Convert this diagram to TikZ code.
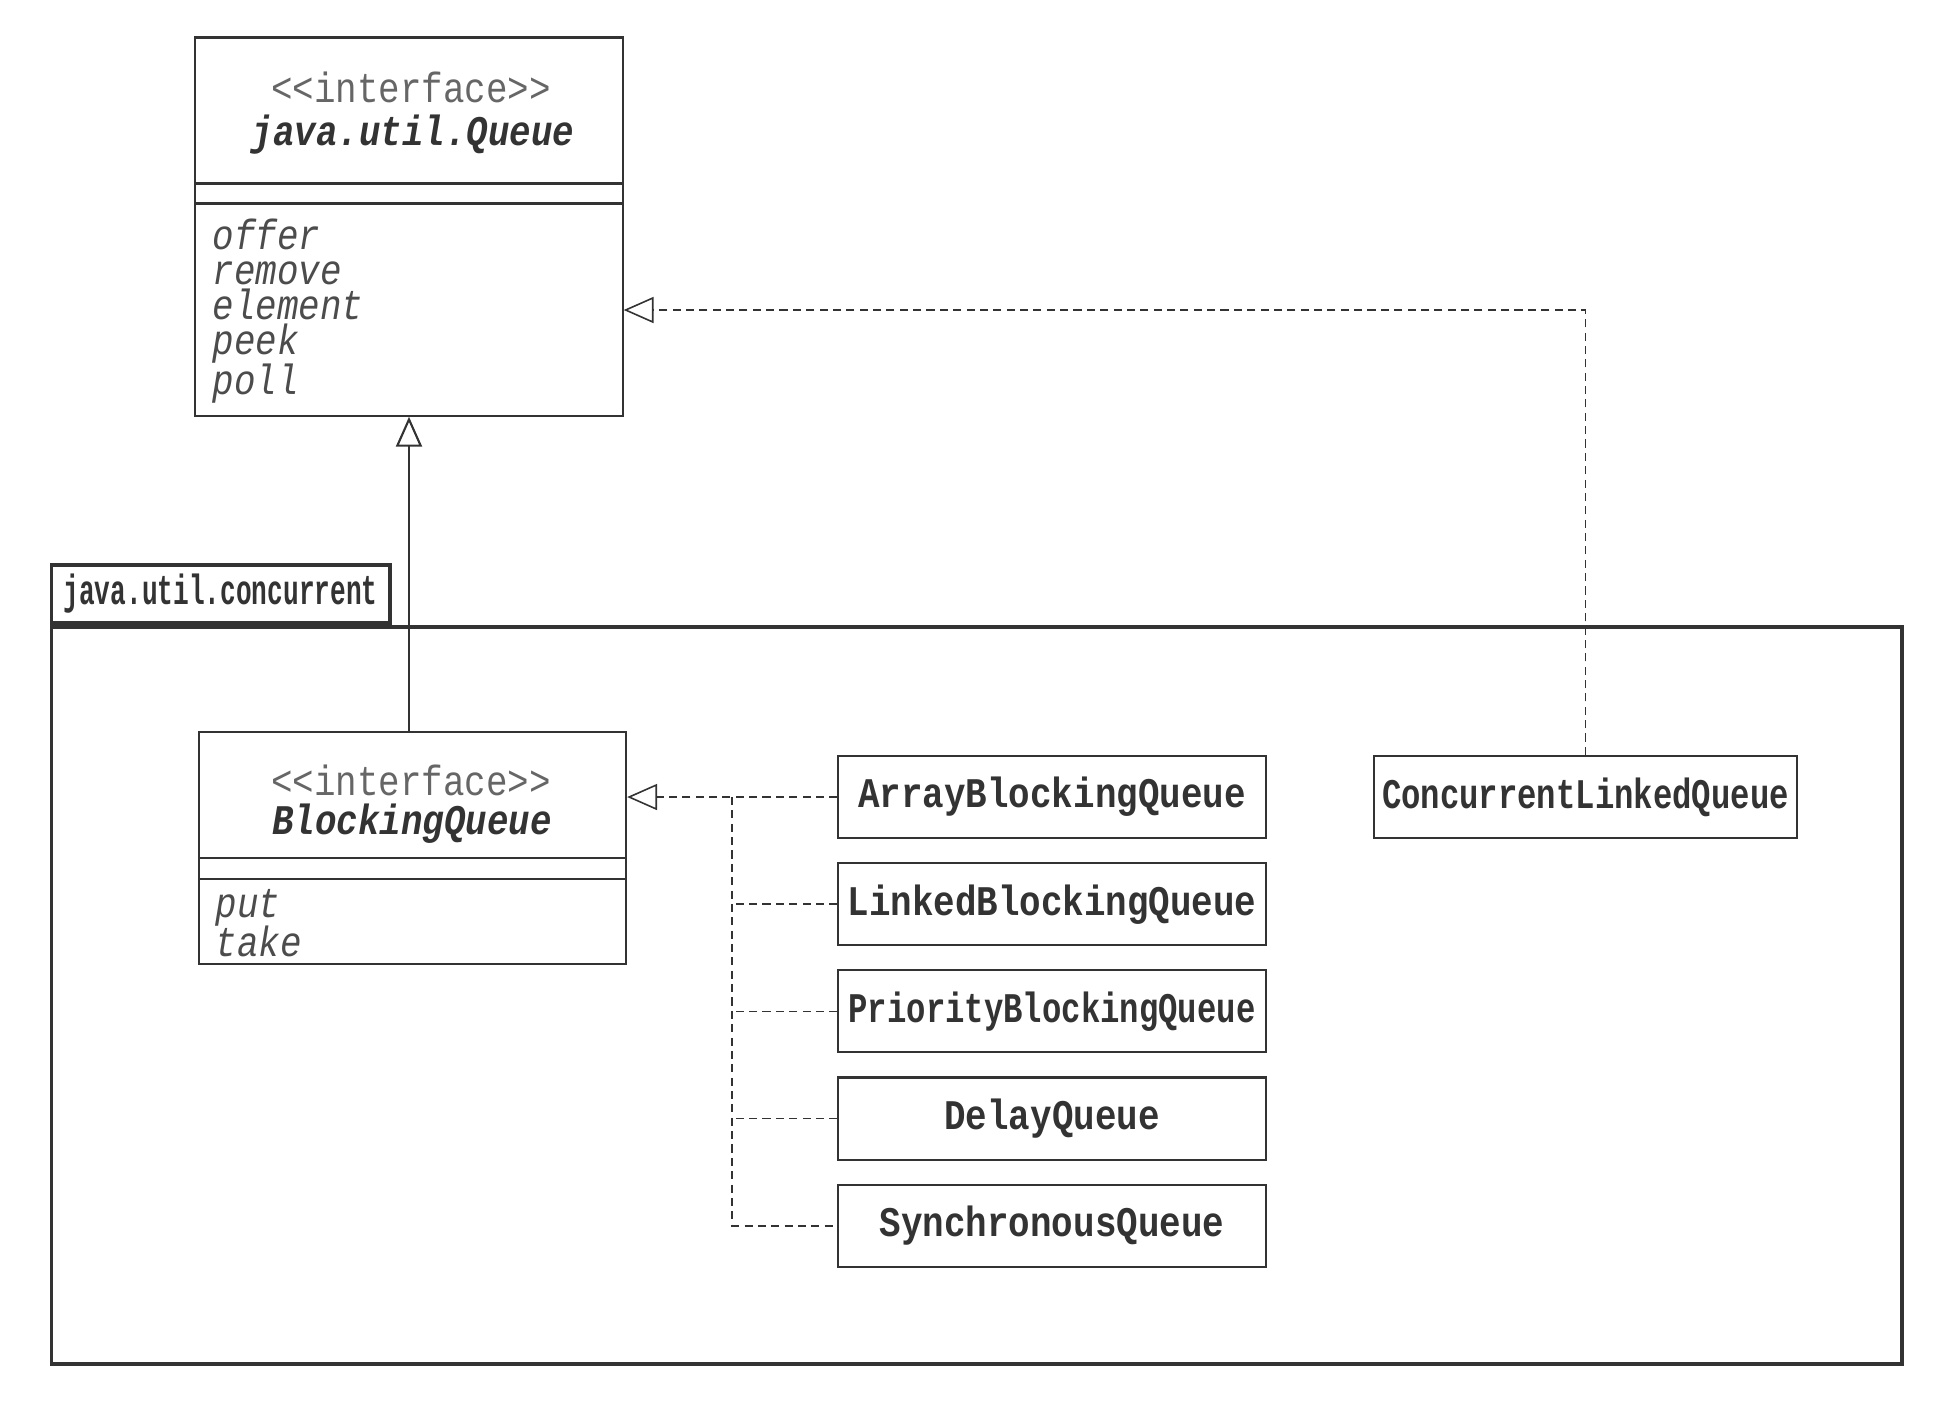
\documentclass[tikz,border=0pt]{standalone}
\usepackage{fontspec}
\usepackage{graphicx}
\usetikzlibrary{arrows.meta,positioning,calc}
\newfontfamily\umlfont[FakeStretch=0.85]{Liberation Mono}
\newfontfamily\tabfont[FakeStretch=0.62]{Liberation Mono}
\newcommand\umlsize{\fontsize{12}{14}\selectfont}
\definecolor{inkgray}{gray}{0.2}
\definecolor{stereogray}{gray}{0.4}
\definecolor{opgray}{gray}{0.3}

\tikzset{
  umlbox/.style={draw=inkgray, line width=0.6pt, minimum width=4.27cm, inner sep=0pt},
  classbox/.style={umlbox, minimum height=0.82cm, font={\umlfont\umlsize\bfseries}, text=inkgray},
  stereo/.style={font={\umlfont\umlsize}, text=stereogray, anchor=base, inner sep=0pt},
  ifname/.style={font={\umlfont\umlsize\bfseries\itshape}, text=inkgray, anchor=base, inner sep=0pt},
  oplist/.style={font={\umlfont\fontsize{12}{9.96}\selectfont\itshape\lineskiplimit=-20pt},
                 text=opgray, align=left, anchor=north west, inner sep=0pt},
  pkgline/.style={draw=inkgray, line width=1.1pt, inner sep=0pt},
  dep/.style={draw=inkgray, line width=0.45pt, dash pattern=on 2.3pt off 1.5pt},
  hollow/.style={-{Triangle[open, length=8.5pt, width=7.4pt, fill=white]}},
}

\begin{document}
\begin{tikzpicture}[x=0.01cm, y=-0.01cm]
    \useasboundingbox (0,0) rectangle (1952,1402);

    % 包 java.util.concurrent
    \node[pkgline, minimum width=18.49cm, minimum height=7.37cm] (pkg) at (976.5,995.5) {};
    \node[pkgline, anchor=south west, minimum width=3.38cm, minimum height=0.58cm,
          font={\tabfont\umlsize\bfseries}, text=inkgray] (tab) at (pkg.north west) {java.util.concurrent};

    % 接口 Queue
    \node[umlbox, minimum height=3.78cm] (queue) at (409,226.6) {};
    \draw[draw=inkgray, line width=0.6pt] ([yshift=-1.47cm]queue.north west) -- ([yshift=-1.47cm]queue.north east);
    \draw[draw=inkgray, line width=0.6pt] ([yshift=-1.67cm]queue.north west) -- ([yshift=-1.67cm]queue.north east);
    \node[stereo] (qstereo) at (411,102) {<<interface>>};
    \node[ifname] (qname) at (413,145) {java.util.Queue};
    \node[oplist] (qops) at (212,218.5) {offer\\remove\\element\\peek\\[1.4pt]poll};

    % 接口 BlockingQueue
    \node[umlbox, minimum height=2.32cm] (bq) at (412.5,848) {};
    \draw[draw=inkgray, line width=0.6pt] ([yshift=-1.27cm]bq.north west) -- ([yshift=-1.27cm]bq.north east);
    \draw[draw=inkgray, line width=0.6pt] ([yshift=-1.48cm]bq.north west) -- ([yshift=-1.48cm]bq.north east);
    \node[stereo] (bqstereo) at (411,795) {<<interface>>};
    \node[ifname] (bqname) at (412,834) {BlockingQueue};
    \node[oplist] (bqops) at (215,889) {put\\[1pt]take};

    % 实现类
    \node[classbox] (abq) at (1052,797) {ArrayBlockingQueue};
    \node[classbox, below=0.23cm of abq] (lbq) {LinkedBlockingQueue};
    \node[classbox, below=0.23cm of lbq] (pbq) {\scalebox{0.9}[1]{PriorityBlockingQueue}};
    \node[classbox, below=0.23cm of pbq] (dq) {DelayQueue};
    \node[classbox, below=0.23cm of dq] (sq) {SynchronousQueue};
    \node[classbox, minimum width=4.23cm, right=1.06cm of abq] (clq) {\scalebox{0.9}[1]{ConcurrentLinkedQueue}};

    % 继承与实现
    \draw[draw=inkgray, line width=0.6pt, hollow] (queue.south |- bq.north) -- (queue.south);
    \coordinate (trunk) at ($(abq.west)!0.5!(abq.west -| bq.east)$);
    \draw[dep, hollow] (abq.west) -- (abq.west -| bq.east);
    \draw[dep] (trunk) |- (sq.west);
    \foreach \c in {lbq,pbq,dq}
        \draw[dep] (\c.west) -- (\c.west -| trunk);
    \coordinate (bend) at (clq.north |- 0,310);
    \draw[dep, hollow] (clq.north) -- (bend) -- (bend -| queue.east);
\end{tikzpicture}
\end{document}
